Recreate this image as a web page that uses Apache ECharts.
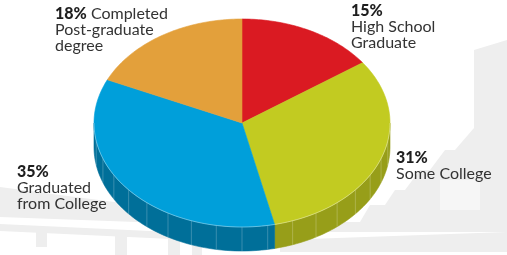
<!DOCTYPE html>
<html><head><meta charset="utf-8">
<script src="https://cdn.jsdelivr.net/npm/echarts@6/dist/echarts.min.js"></script>
<style>html,body{margin:0;padding:0;background:#fff}#c{width:507px;height:255px}</style>
</head><body><div id="c"></div>
<script>
// ---- data ----
const categories = ['High School Graduate', 'Some College', 'Graduated from College', 'Completed Post-graduate degree'];
const percents = [15, 31, 35, 18];
const labelFirstLineExtra = ['', '', '', 'Completed'];
const labelRest = [['High School', 'Graduate'], ['Some College'], ['Graduated', 'from College'], ['Post-graduate', 'degree']];

// ---- styles / layout ----
const topColors = ['#DA1A22', '#C2CB21', '#009FDA', '#E3A03B'];
const sideColors = ['#A5141A', '#979E19', '#006F99', '#B07C2C'];
const labelPos = [[351, 3], [396, 150], [17, 164], [55, 6]];
const geo = { cx: 242, cy: 123, rx: 148, ry: 104, depth: 24 };

const total = percents.reduce((a, b) => a + b, 0);
function pt(t, dy) { return [geo.cx + geo.rx * Math.sin(t), geo.cy - geo.ry * Math.cos(t) + (dy || 0)]; }

const chart = echarts.init(document.getElementById('c'), null, { renderer: 'canvas' });

const bgColor = '#EEEEEE';
const background = [
  { type: 'polygon', shape: { points: [[474, 50], [507, 40], [507, 232], [290, 232], [300, 222], [360, 222], [370, 205], [385, 205], [395, 190], [405, 190], [420, 170], [430, 170], [445, 150], [455, 150], [474, 128]] }, style: { fill: bgColor } },
  { type: 'rect', shape: { x: 440, y: 180, width: 40, height: 30 }, style: { fill: '#F6F6F6' } },
  { type: 'polygon', shape: { points: [[0, 187], [60, 195], [130, 204], [300, 218], [300, 228], [0, 217]] }, style: { fill: bgColor } },
  { type: 'polygon', shape: { points: [[0, 224], [300, 238], [300, 245], [0, 231]] }, style: { fill: bgColor } },
  { type: 'rect', shape: { x: 36, y: 231, width: 11, height: 16 }, style: { fill: bgColor } },
  { type: 'rect', shape: { x: 115, y: 235, width: 12, height: 20 }, style: { fill: bgColor } },
  { type: 'rect', shape: { x: 168, y: 237, width: 12, height: 18 }, style: { fill: bgColor } },
  { type: 'rect', shape: { x: 192, y: 238, width: 10, height: 17 }, style: { fill: bgColor } },
  { type: 'polygon', shape: { points: [[280, 240], [507, 232], [507, 252], [280, 252]] }, style: { fill: bgColor } }
];

const labels = percents.map((p, i) => {
  let first = '{b|' + p + '%}' + (labelFirstLineExtra[i] ? '{n| ' + labelFirstLineExtra[i] + '}' : '');
  const txt = [first].concat(labelRest[i].map(s => '{n|' + s + '}')).join('\n');
  return {
    type: 'text', left: labelPos[i][0], top: labelPos[i][1], z: 10,
    style: {
      text: txt, fill: '#2E2E2E', font: '16px Lato',
      rich: {
        b: { fontFamily: 'Lato', fontWeight: 900, fontSize: 16, fill: '#1E1E1E', lineHeight: 16 },
        n: { fontFamily: 'Lato', fontSize: 16, fill: '#333', lineHeight: 16 }
      }
    }
  };
});

chart.setOption({
  animation: false,
  backgroundColor: '#fff',
  graphic: { elements: background.map(e => Object.assign({ z: -10 }, e)).concat(labels) },
  series: [{
    type: 'custom',
    coordinateSystem: 'none',
    data: percents.map((p, i) => ({ name: categories[i], value: [p] })),
    renderItem: function (params, api) {
      const i = params.dataIndex;
      const v = api.value(0);
      let before = 0;
      for (let j = 0; j < i; j++) before += percents[j];
      const a0 = before / total * Math.PI * 2;
      const a1 = (before + v) / total * Math.PI * 2;
      const children = [];
      const N = 60;
      const topPts = [[geo.cx, geo.cy]];
      for (let k = 0; k <= N; k++) topPts.push(pt(a0 + (a1 - a0) * k / N));
      children.push({ type: 'polygon', z2: 10, shape: { points: topPts }, style: { fill: topColors[i], stroke: topColors[i], lineWidth: 0.6 } });
      const s0 = Math.max(a0, Math.PI / 2), s1 = Math.min(a1, Math.PI * 1.5);
      if (s1 > s0) {
        const up = [], dn = [];
        for (let k = 0; k <= N; k++) {
          const t = s0 + (s1 - s0) * k / N;
          up.push(pt(t)); dn.push(pt(t, geo.depth));
        }
        children.push({ type: 'polygon', z2: 1, shape: { points: up.concat(dn.slice().reverse()) }, style: { fill: sideColors[i], stroke: sideColors[i], lineWidth: 0.6 } });
        const step = Math.PI / 18;
        for (let t = Math.ceil(s0 / step) * step; t < s1 - 0.02; t += step) {
          if (t - s0 < 0.02) continue;
          const p1 = pt(t), p2 = pt(t, geo.depth);
          children.push({ type: 'line', z2: 2, shape: { x1: p1[0], y1: p1[1], x2: p2[0], y2: p2[1] }, style: { stroke: 'rgba(255,255,255,0.22)', lineWidth: 1 } });
        }
        children.push({ type: 'polyline', z2: 11, shape: { points: up }, style: { stroke: 'rgba(255,255,255,0.45)', lineWidth: 0.8, fill: null } });
      }
      return { type: 'group', children: children };
    }
  }]
});
</script></body></html>
